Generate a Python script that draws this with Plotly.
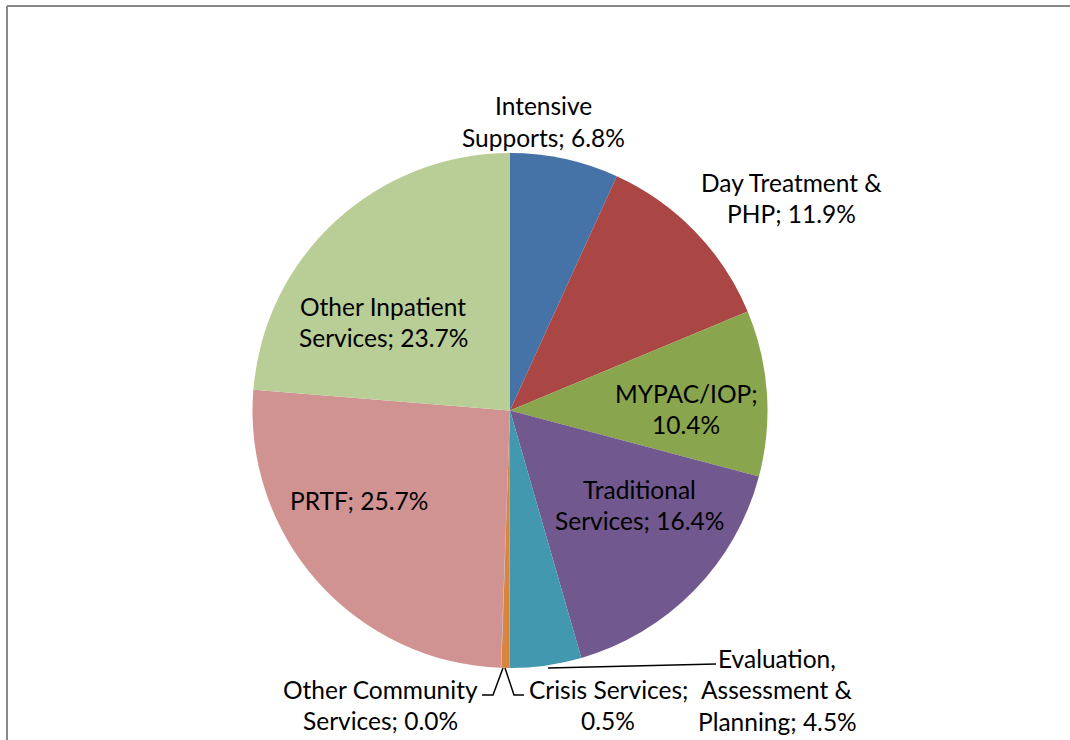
import plotly.graph_objects as go

# ---- data ----
categories = ["Intensive Supports", "Day Treatment & PHP", "MYPAC/IOP",
              "Traditional Services", "Evaluation, Assessment & Planning",
              "Crisis Services", "Other Community Services", "PRTF",
              "Other Inpatient Services"]
values = [6.8, 11.9, 10.4, 16.4, 4.5, 0.5, 0.03, 25.7, 23.7]
colors = ["#4572A7", "#AA4643", "#89A54E", "#71588F", "#4198AF",
          "#DB843D", "#93A9CF", "#D19392", "#B9CD96"]

# label line breaks (how each label wraps) and text placement (pixels)
label_lines = [
    ["Intensive", "Supports; {v}"],
    ["Day Treatment &", "PHP; {v}"],
    ["MYPAC/IOP;", "{v}"],
    ["Traditional", "Services; {v}"],
    ["Evaluation,", "Assessment &", "Planning; {v}"],
    ["Crisis Services;", "{v}"],
    ["Other Community", "Services; {v}"],
    ["PRTF; {v}"],
    ["Other Inpatient", "Services; {v}"],
]
label_pos = [(543, 106), (791, 182), (686, 393), (639, 489), (777, 658),
             (608, 689), (380, 689), (359, 500), (383, 306)]
line_gap = 31.5

W, H = 1070, 740
cx, cy, r = 510, 410.5, 257.5

def px(x):
    return x / W

def py(y):
    return 1 - y / H

total = sum(values)

fig = go.Figure(go.Pie(
    labels=categories, values=values, sort=False, direction="clockwise",
    rotation=0, marker=dict(colors=colors, line=dict(width=0)),
    textinfo="none", hoverinfo="label+percent", showlegend=False,
    domain=dict(x=[px(cx - r), px(cx + r)], y=[py(cy + r), py(cy - r)]),
))

annotations = []
for lines, (lx, ly), v in zip(label_lines, label_pos, values):
    pct = f"{v / total * 100:.1f}%"
    for i, t in enumerate(lines):
        y = ly + i * line_gap
        annotations.append(dict(
            x=px(lx), y=py(y), xref="paper", yref="paper",
            text=t.format(v=pct), showarrow=False, xanchor="center",
            yanchor="middle", font=dict(family="Lato", size=24.5, color="#000000")))

# leader lines (pixel paths)
leaders = [
    [(548, 668), (716, 664)],
    [(505, 668), (514, 695), (524, 695)],
    [(503, 668), (493, 695), (482, 695)],
]
shapes = []
for pts in leaders:
    path = "M " + " L ".join(f"{px(x)},{py(y)}" for x, y in pts)
    shapes.append(dict(type="path", xref="paper", yref="paper", path=path,
                       line=dict(color="black", width=1.5)))

# chart frame (left and top edges)
shapes.append(dict(type="line", xref="paper", yref="paper",
                   x0=px(7), y0=py(6), x1=px(1075), y1=py(6),
                   line=dict(color="#888888", width=2)))
shapes.append(dict(type="line", xref="paper", yref="paper",
                   x0=px(7), y0=py(6), x1=px(7), y1=py(745),
                   line=dict(color="#888888", width=2)))

fig.update_layout(
    width=W, height=H, margin=dict(l=0, r=0, t=0, b=0),
    paper_bgcolor="white", plot_bgcolor="white",
    annotations=annotations, shapes=shapes,
)

fig.write_html("out.html", config={"displayModeBar": False},
               post_script="document.body.style.margin='0';"
                           "document.body.style.overflow='hidden';"
                           "document.documentElement.style.overflow='hidden';")
